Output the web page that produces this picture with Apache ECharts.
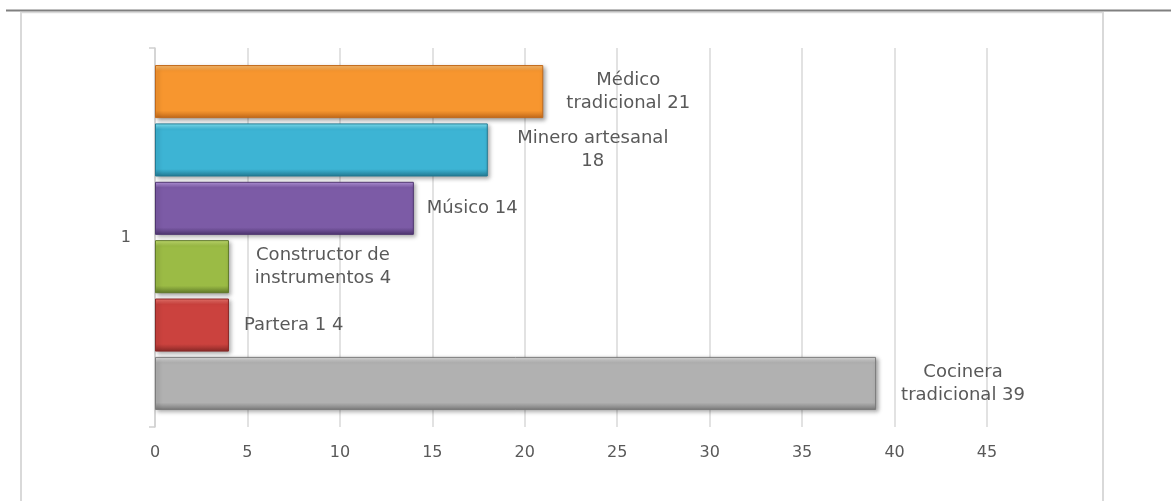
<!DOCTYPE html>
<html>
<head>
<meta charset="utf-8">
<script src="https://cdn.jsdelivr.net/npm/echarts@6/dist/echarts.min.js"></script>
<style>
html,body{margin:0;padding:0;background:#fff;}
#chart{width:1171px;height:501px;}
</style>
</head>
<body>
<div id="chart"></div>
<script>
const categories = ['1'];
const seriesNames = ['Médico tradicional', 'Minero artesanal', 'Músico', 'Constructor de instrumentos', 'Partera 1', 'Cocinera tradicional'];
const seriesValues = [21, 18, 14, 4, 4, 39];
const labelTexts = ['Médico\ntradicional 21', 'Minero artesanal\n18', 'Músico 14', 'Constructor de\ninstrumentos 4', 'Partera 1 4', 'Cocinera\ntradicional 39'];
const xTicks = { min: 0, max: 45, interval: 5 };

// [top highlight, main, bottom shade]
const palette = [
  ['#FDC276', '#F7962F', '#C2691A'],
  ['#86EAFA', '#3DB4D4', '#237A93'],
  ['#BB9AE2', '#7C5BA6', '#4E3570'],
  ['#C8E472', '#9BBB45', '#617A2A'],
  ['#F27870', '#CB423E', '#892927'],
  ['#E0E0E0', '#B1B1B1', '#7B7B7B']
];
// label placement (distance from bar end to text anchor, alignment)
const labelPlace = [
  { distance: 85, align: 'center' },
  { distance: 105, align: 'center' },
  { distance: 13, align: 'left' },
  { distance: 94, align: 'center' },
  { distance: 15, align: 'left' },
  { distance: 87, align: 'center' }
];

const FONT = 'DejaVu Sans';

function grad(c) {
  return new echarts.graphic.LinearGradient(0, 0, 0, 1, [
    { offset: 0, color: c[0] },
    { offset: 0.11, color: c[1] },
    { offset: 0.86, color: c[1] },
    { offset: 1, color: c[2] }
  ]);
}

const chart = echarts.init(document.getElementById('chart'), null, { renderer: 'canvas' });

const series = seriesNames.map((name, i) => ({
  name: name,
  type: 'bar',
  data: [seriesValues[i]],
  barGap: '10%',
  barCategoryGap: '9%',
  itemStyle: {
    color: grad(palette[i]),
    borderColor: palette[i][2],
    borderWidth: 1,
    shadowColor: 'rgba(0,0,0,0.35)',
    shadowBlur: 4,
    shadowOffsetX: 2,
    shadowOffsetY: 2
  },
  label: {
    show: true,
    position: 'right',
    distance: labelPlace[i].distance,
    align: labelPlace[i].align,
    formatter: () => labelTexts[i],
    color: '#595959',
    fontFamily: FONT,
    fontSize: 18,
    lineHeight: 23
  },
  emphasis: { disabled: true },
  animation: false
}));

chart.setOption({
  animation: false,
  backgroundColor: '#ffffff',
  grid: { left: 155, right: 184, top: 48, bottom: 74, containLabel: false },
  xAxis: {
    type: 'value',
    min: xTicks.min,
    max: xTicks.max,
    interval: xTicks.interval,
    axisLine: { show: false },
    axisTick: { show: false },
    splitLine: { show: true, lineStyle: { color: '#D9D9D9', width: 1.5 } },
    axisLabel: { color: '#595959', fontFamily: FONT, fontSize: 16, margin: 18 }
  },
  yAxis: {
    type: 'category',
    data: categories,
    axisLine: { show: true, lineStyle: { color: '#D0D0D0', width: 1.5 } },
    axisTick: { show: true, length: 6, lineStyle: { color: '#D0D0D0', width: 1.5 } },
    axisLabel: { color: '#595959', fontFamily: FONT, fontSize: 16, margin: 24 }
  },
  graphic: [
    { type: 'line', silent: true, shape: { x1: 21, y1: 12, x2: 21, y2: 501 }, style: { stroke: '#D9D9D9', lineWidth: 2 } },
    { type: 'line', silent: true, shape: { x1: 1103, y1: 12, x2: 1103, y2: 501 }, style: { stroke: '#D9D9D9', lineWidth: 2 } },
    { type: 'line', silent: true, shape: { x1: 21, y1: 12.5, x2: 1103, y2: 12.5 }, style: { stroke: '#D9D9D9', lineWidth: 1.5 } },
    { type: 'line', silent: true, shape: { x1: 6, y1: 10.5, x2: 1171, y2: 10.5 }, style: { stroke: '#808080', lineWidth: 2 } }
  ],
  series: series
});
</script>
</body>
</html>
